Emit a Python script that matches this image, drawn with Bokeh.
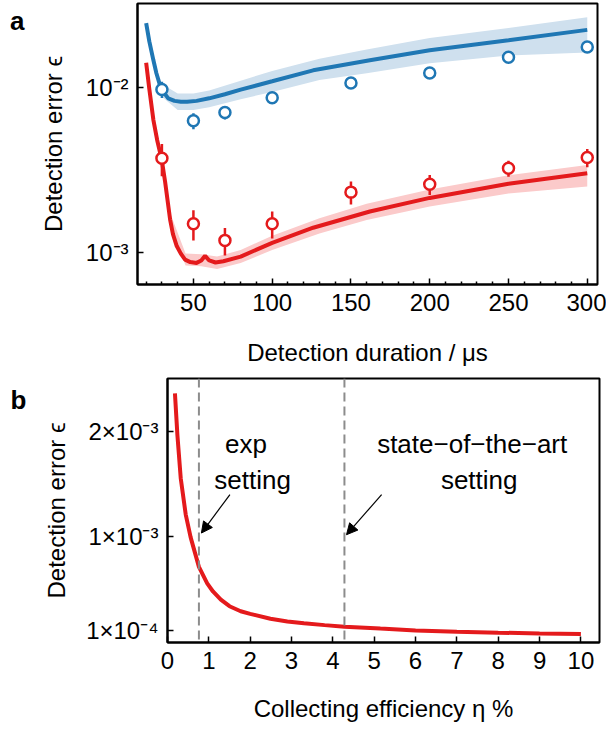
from bokeh.plotting import figure
from bokeh.models import FixedTicker, Span, Arrow, NormalHead, Label
from bokeh.embed import file_html
from bokeh.resources import INLINE

FONT = "Liberation Sans"

# ---------------- panel a data ----------------
dur_pts = [30, 50, 70, 100, 150, 200, 250, 300]
blue_pts = [9.73e-3, 6.29e-3, 7.07e-3, 8.66e-3, 1.066e-2, 1.225e-2, 1.522e-2, 1.756e-2]
blue_err = [1.1e-3, 0.69e-3, 0.66e-3, 0.6e-3, 0.5e-3, 0.5e-3, 0.5e-3, 0.6e-3]
red_pts = [3.73e-3, 1.50e-3, 1.19e-3, 1.50e-3, 2.33e-3, 2.60e-3, 3.25e-3, 3.77e-3]
red_err = [0.82e-3, 0.31e-3, 0.226e-3, 0.28e-3, 0.37e-3, 0.36e-3, 0.36e-3, 0.48e-3]

blue_curve_x = [20, 22, 24.6, 26.5, 28.8, 31, 34, 38, 42, 46, 52, 60, 70, 80, 100, 126, 162, 200, 250, 300]
blue_curve_y = [0.0245, 0.0190, 0.0146, 0.0122, 0.0103, 0.0094, 0.0086, 0.0083, 0.0082, 0.0082,
                0.0083, 0.0086, 0.0091, 0.0097, 0.0109, 0.0127, 0.0146, 0.0168, 0.0193, 0.0223]
blue_band_x = [30, 40, 50, 60, 80, 100, 130, 160, 200, 250, 300]
blue_band_lo = [0.0088, 0.0073, 0.0073, 0.0076, 0.0085, 0.0094, 0.0111, 0.0122, 0.0140, 0.0156, 0.0163]
blue_band_hi = [0.0105, 0.0092, 0.0092, 0.0096, 0.0110, 0.0126, 0.0149, 0.0170, 0.0199, 0.0229, 0.0266]

red_curve_x = [20, 22, 24.6, 27, 29.9, 32, 35.2, 37, 39.4, 42, 44.7, 48, 52, 55, 57.4, 60, 64, 69,
               80, 100, 126, 162, 200, 250, 300]
red_curve_y = [0.0141, 0.0098, 0.00635, 0.0048, 0.00365, 0.0027, 0.00159, 0.00130, 0.00110, 0.00099,
               0.00091, 0.00088, 0.00087, 0.00090, 0.00096, 0.00090, 0.000875, 0.00089,
               0.00095, 0.00115, 0.00142, 0.00178, 0.00215, 0.00262, 0.00303]
red_band_x = [35, 45, 55, 65, 80, 100, 130, 160, 200, 250, 300]
red_band_lo = [0.00150, 0.00084, 0.00083, 0.00080, 0.00087, 0.00104, 0.00131, 0.00158, 0.00191, 0.00229, 0.00252]
red_band_hi = [0.00177, 0.00099, 0.00098, 0.00095, 0.00104, 0.00127, 0.00162, 0.00198, 0.00242, 0.00295, 0.00340]

a_x_major = [50, 100, 150, 200, 250, 300]
a_x_minor = [20, 30, 40, 60, 70, 80, 90, 110, 120, 130, 140, 160, 170, 180, 190,
             210, 220, 230, 240, 260, 270, 280, 290]
a_y_ticks = [1e-3, 1e-2]
a_y_labels = ["10\u207b\u00b3", "10\u207b\u00b2"]

# ---------------- panel b data ----------------
eta = [0.18, 0.24, 0.32, 0.44, 0.56, 0.76, 0.96, 1.1, 1.29, 1.5, 1.77, 2.0, 2.49, 2.9, 3.3, 3.8,
       4.28, 5.15, 6, 7, 8, 9, 10]
eta_err = [2.36e-3, 1.96e-3, 1.553e-3, 1.209e-3, 0.99e-3, 0.709e-3, 0.553e-3, 0.475e-3, 0.397e-3,
           0.335e-3, 0.287e-3, 0.262e-3, 0.215e-3, 0.19e-3, 0.172e-3, 0.155e-3,
           0.14e-3, 0.122e-3, 0.105e-3, 0.092e-3, 0.083e-3, 0.076e-3, 0.07e-3]
b_x_ticks = [0, 1, 2, 3, 4, 5, 6, 7, 8, 9, 10]
b_y_ticks = [1e-4, 1e-3, 2e-3]
b_y_labels = ["1\u00d710\u207b\u2074", "1\u00d710\u207b\u00b3", "2\u00d710\u207b\u00b3"]
settings = [0.76, 4.28]

BLUE = "#1f77b4"
BLUE_BAND = "#cfe0ee"
RED = "#e41a1c"
RED_BAND = "#fbcaca"


def style(p):
    p.outline_line_color = "black"
    p.outline_line_width = 2
    p.outline_line_alpha = 1
    p.xgrid.visible = False
    p.ygrid.visible = False
    for ax in p.axis:
        ax.axis_line_width = 2
        ax.axis_line_color = "black"
        ax.major_tick_in = 6
        ax.major_tick_out = 0
        ax.minor_tick_in = 3
        ax.minor_tick_out = 0
        ax.major_tick_line_width = 1.5
        ax.minor_tick_line_width = 1.5
        ax.major_label_text_font = FONT
        ax.major_label_text_font_size = "24px"
        ax.major_label_text_color = "black"
        ax.major_label_standoff = 9
        ax.axis_label_text_font = FONT
        ax.axis_label_text_font_size = "24px"
        ax.axis_label_text_font_style = "normal"
        ax.axis_label_text_color = "black"


# ---------------- panel a ----------------
pa = figure(width=606, height=368, output_backend="svg", toolbar_location=None,
            y_axis_type="log", x_range=(14.5, 306.5), y_range=(6.44e-4, 0.0322),
            min_border_left=137, min_border_right=9, min_border_top=3, min_border_bottom=83)
style(pa)
pa.xaxis.ticker = FixedTicker(ticks=a_x_major, minor_ticks=a_x_minor)
pa.yaxis.ticker = FixedTicker(ticks=a_y_ticks, minor_ticks=[])
pa.yaxis.major_label_overrides = dict(zip(a_y_ticks, a_y_labels))
pa.xaxis.axis_label = "Detection duration / \u03bcs"
pa.yaxis.axis_label = "Detection error \u03f5"
pa.xaxis.axis_label_standoff = 25
pa.yaxis.axis_label_standoff = 16

pa.varea(x=blue_band_x, y1=blue_band_lo, y2=blue_band_hi, fill_color=BLUE_BAND)
pa.varea(x=red_band_x, y1=red_band_lo, y2=red_band_hi, fill_color=RED_BAND)
pa.line(blue_curve_x, blue_curve_y, line_color=BLUE, line_width=4)
pa.line(red_curve_x, red_curve_y, line_color=RED, line_width=4)

pa.segment(x0=dur_pts, x1=dur_pts,
           y0=[v - e for v, e in zip(blue_pts, blue_err)], y1=[v + e for v, e in zip(blue_pts, blue_err)],
           line_color=BLUE, line_width=2.5)
pa.segment(x0=dur_pts, x1=dur_pts,
           y0=[v - e for v, e in zip(red_pts, red_err)], y1=[v + e for v, e in zip(red_pts, red_err)],
           line_color=RED, line_width=2.5)
pa.scatter(dur_pts, blue_pts, size=11, marker="circle", fill_color="white", line_color=BLUE, line_width=2.5)
pa.scatter(dur_pts, red_pts, size=11, marker="circle", fill_color="white", line_color=RED, line_width=2.5)

# panel letter, placed in the left border panel (not clipped to the frame)
pa.add_layout(Label(x=-66.4, y=0.02507, text="a",
                    text_font=FONT, text_font_style="bold", text_font_size="26px",
                    text_baseline="alphabetic", text_color="black"), "left")

# ---------------- panel b ----------------
pb = figure(width=606, height=356, output_backend="svg", toolbar_location=None,
            x_range=(0, 10.45), y_range=(-1.03e-5, 2.501e-3),
            min_border_left=167, min_border_right=7, min_border_top=10, min_border_bottom=78)
style(pb)
pb.xaxis.ticker = FixedTicker(ticks=b_x_ticks, minor_ticks=[])
pb.yaxis.ticker = FixedTicker(ticks=b_y_ticks, minor_ticks=[])
pb.yaxis.major_label_overrides = dict(zip(b_y_ticks, b_y_labels))
pb.xaxis.axis_label = "Collecting efficiency \u03b7 %"
pb.yaxis.axis_label = "Detection error \u03f5"
pb.xaxis.major_label_standoff = 9
pb.xaxis.axis_label_standoff = 23
pb.yaxis.axis_label_standoff = 13

for s in settings:
    pb.add_layout(Span(location=s, dimension="height", line_color="#8c8c8c",
                       line_width=2, line_dash="9 5"))

pb.line(eta, eta_err, line_color=RED, line_width=4)

for txt, xx, yy in [("exp", 1.9, 1.875e-3), ("setting", 2.06, 1.538e-3),
                    ("state\u2212of\u2212the\u2212art", 7.37, 1.875e-3), ("setting", 7.54, 1.538e-3)]:
    pb.add_layout(Label(x=xx, y=yy, text=txt, text_align="center", text_baseline="middle",
                        text_font=FONT, text_font_size="26px", text_color="black"))

for xs, ys, xe, ye in [(1.51, 1.397e-3, 0.82, 1.031e-3), (5.18, 1.397e-3, 4.33, 1.015e-3)]:
    pb.add_layout(Arrow(end=NormalHead(size=11, fill_color="black", line_color="black"),
                        x_start=xs, y_start=ys, x_end=xe, y_end=ye,
                        line_color="black", line_width=1.2))

pb.add_layout(Label(x=-3.80, y=2.297e-3, text="b",
                    text_font=FONT, text_font_style="bold", text_font_size="26px",
                    text_baseline="alphabetic", text_color="black"), "left")

open("out.html", "w").write(file_html([pa, pb], INLINE))
